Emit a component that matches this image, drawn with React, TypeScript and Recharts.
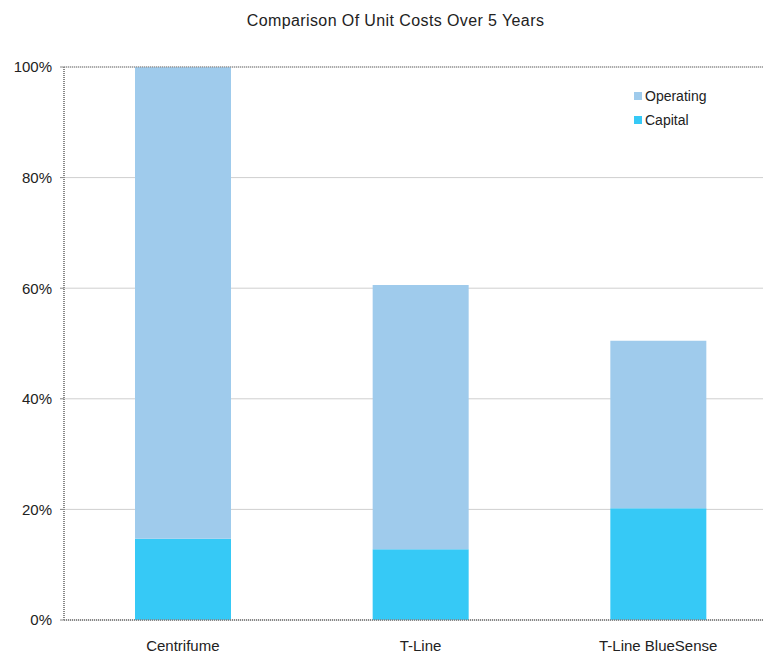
import React from "react";
import { BarChart, Bar, XAxis, YAxis, CartesianGrid, ReferenceLine } from "recharts";

const categories = ["Centrifume", "T-Line", "T-Line BlueSense"];
const capital = [0.147, 0.128, 0.202];
const operating = [0.853, 0.478, 0.303];
const yTicks = [0, 0.2, 0.4, 0.6, 0.8, 1];
const legendItems = ["Operating", "Capital"];

const data = categories.map((name, i) => ({ name, capital: capital[i], operating: operating[i] }));

const FONT = "'Liberation Sans', Arial, sans-serif";
const OP_COLOR = "#9fcbec";
const CAP_COLOR = "#36c9f6";
const legendColors = [OP_COLOR, CAP_COLOR];

export default function App() {
  return (
    <div style={{ position: "relative", width: 763, height: 647, overflow: "hidden", background: "#fff" }}>
      <div
        style={{
          position: "absolute",
          left: 10,
          top: 4,
          width: 755,
          textAlign: "center",
          fontFamily: FONT,
          fontSize: 16,
          letterSpacing: 0.4,
          color: "#222",
        }}
      >
        Comparison Of Unit Costs Over 5 Years
      </div>
      <div style={{ position: "absolute", left: 626, top: 76, fontFamily: FONT, fontSize: 14, color: "#222", zIndex: 2 }}>
        {legendItems.map((label, i) => (
          <div key={label} style={{ display: "flex", alignItems: "center", height: 24 }}>
            <span style={{ width: 8, height: 8, background: legendColors[i], display: "inline-block", marginRight: 3 }} />
            <span>{label}</span>
          </div>
        ))}
      </div>
      <BarChart
        width={775}
        height={647}
        data={data}
        margin={{ top: 59, right: 6, bottom: 0, left: 0 }}
        barSize={96}
      >
        <CartesianGrid vertical={false} stroke="#cfcfcf" strokeWidth={1} />
        <XAxis
          dataKey="name"
          height={35}
          tickLine={false}
          axisLine={{ stroke: "#888", strokeWidth: 2, strokeDasharray: "1 1" }}
          tick={{ fontFamily: FONT, fontSize: 15, fill: "#222" }}
          tickMargin={14}
        />
        <YAxis
          width={56}
          domain={[0, 1]}
          ticks={yTicks}
          tickFormatter={(v) => `${Math.round(v * 100)}%`}
          axisLine={{ stroke: "#888", strokeWidth: 2, strokeDasharray: "1 1" }}
          tickLine={{ stroke: "#888" }}
          tickSize={4}
          tickMargin={8}
          tick={{ fontFamily: FONT, fontSize: 15, fill: "#222" }}
        />
        <ReferenceLine y={1} stroke="#999" strokeDasharray="1 1" strokeWidth={1.5} />
        <Bar dataKey="capital" stackId="a" fill={CAP_COLOR} isAnimationActive={false} />
        <Bar dataKey="operating" stackId="a" fill={OP_COLOR} isAnimationActive={false} />
      </BarChart>
    </div>
  );
}
